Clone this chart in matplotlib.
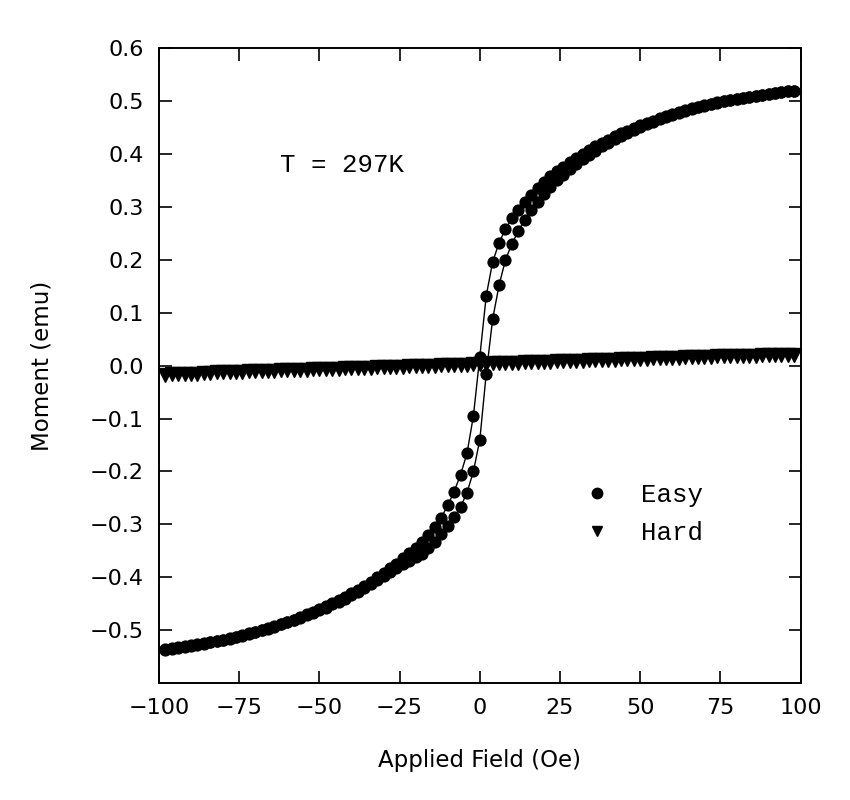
import numpy as np
import matplotlib
matplotlib.use("Agg")
import matplotlib.pyplot as plt
from matplotlib.lines import Line2D

# applied field grid (Oe), step 2
field = np.arange(-98, 99, 2)

# easy axis, descending-field branch (upper)
easy_down = [
    -0.536, -0.534, -0.532, -0.530, -0.528, -0.526, -0.524, -0.522, -0.520, -0.518, -0.515,
    -0.512, -0.509, -0.506, -0.503, -0.499, -0.496, -0.492, -0.488, -0.484, -0.480, -0.475,
    -0.470, -0.465, -0.460, -0.455, -0.449, -0.443, -0.437, -0.430, -0.423, -0.416, -0.408,
    -0.400, -0.392, -0.383, -0.374, -0.364, -0.354, -0.344, -0.334, -0.320, -0.304, -0.287,
    -0.264, -0.238, -0.206, -0.166, -0.095, 0.017, 0.132, 0.196, 0.232, 0.258, 0.278,
    0.294, 0.310, 0.323, 0.336, 0.347, 0.358, 0.367, 0.376, 0.384, 0.392, 0.400,
    0.407, 0.414, 0.421, 0.427, 0.433, 0.439, 0.444, 0.449, 0.454, 0.459, 0.463,
    0.467, 0.471, 0.475, 0.479, 0.482, 0.486, 0.489, 0.492, 0.495, 0.498, 0.500,
    0.502, 0.504, 0.506, 0.508, 0.510, 0.511, 0.513, 0.515, 0.516, 0.518, 0.519,
]

# easy axis, ascending-field branch (lower)
easy_up = [
    -0.537, -0.535, -0.533, -0.531, -0.529, -0.527, -0.525, -0.523, -0.521, -0.519, -0.516,
    -0.513, -0.510, -0.507, -0.504, -0.500, -0.497, -0.493, -0.489, -0.485, -0.481, -0.476,
    -0.471, -0.467, -0.462, -0.457, -0.451, -0.446, -0.440, -0.434, -0.427, -0.420, -0.413,
    -0.405, -0.397, -0.389, -0.382, -0.375, -0.369, -0.362, -0.355, -0.345, -0.333, -0.318,
    -0.303, -0.286, -0.267, -0.240, -0.200, -0.140, -0.015, 0.088, 0.152, 0.200, 0.230,
    0.254, 0.276, 0.294, 0.310, 0.325, 0.338, 0.350, 0.361, 0.372, 0.381, 0.390,
    0.398, 0.406, 0.414, 0.421, 0.428, 0.434, 0.440, 0.446, 0.451, 0.456, 0.461,
    0.465, 0.469, 0.473, 0.477, 0.481, 0.484, 0.488, 0.491, 0.494, 0.497, 0.499,
    0.502, 0.504, 0.506, 0.508, 0.510, 0.511, 0.513, 0.515, 0.516, 0.518, 0.519,
]

# hard axis
hard = [
    -0.017, -0.016, -0.016, -0.015, -0.015, -0.015, -0.014, -0.014, -0.013, -0.013, -0.013,
    -0.012, -0.012, -0.011, -0.011, -0.011, -0.010, -0.010, -0.009, -0.009, -0.009, -0.008,
    -0.008, -0.007, -0.007, -0.007, -0.006, -0.006, -0.005, -0.005, -0.005, -0.004, -0.004,
    -0.003, -0.003, -0.003, -0.002, -0.002, -0.001, -0.001, -0.001, 0.000, 0.000, 0.001,
    0.001, 0.001, 0.002, 0.002, 0.003, 0.003, 0.003, 0.004, 0.004, 0.005, 0.005,
    0.005, 0.006, 0.006, 0.007, 0.007, 0.007, 0.008, 0.008, 0.009, 0.009, 0.009,
    0.010, 0.010, 0.011, 0.011, 0.011, 0.012, 0.012, 0.013, 0.013, 0.013, 0.014,
    0.014, 0.015, 0.015, 0.015, 0.016, 0.016, 0.017, 0.017, 0.017, 0.018, 0.018,
    0.018, 0.019, 0.019, 0.019, 0.019, 0.020, 0.020, 0.020, 0.020, 0.020, 0.020,
]

xticks = [-100, -75, -50, -25, 0, 25, 50, 75, 100]
yticks = [-0.5, -0.4, -0.3, -0.2, -0.1, 0.0, 0.1, 0.2, 0.3, 0.4, 0.5, 0.6]

sans = "DejaVu Sans"
mono = "Liberation Mono"

fig = plt.figure(figsize=(8.5, 8), dpi=100)
ax = fig.add_axes([0.187, 0.146, 0.755, 0.794])

# hard axis: dense triangles
ax.plot(field, hard, ls="-", lw=2.0, marker="v", ms=10, color="black")

# easy axis loop: sweep down then back up
loop_x = np.concatenate([field[::-1], field])
loop_y = np.concatenate([easy_down[::-1], easy_up])
ax.plot(loop_x, loop_y, "-", color="black", lw=1.0, marker="o", ms=8.8,
        markeredgewidth=0)

ax.set_xlim(-100, 100)
ax.set_ylim(-0.6, 0.6)
ax.set_xticks(xticks)
ax.set_yticks(yticks)
ax.set_xticklabels([str(v) if v >= 0 else "\u2212" + str(-v) for v in xticks])
ax.set_yticklabels([("%.1f" % v).replace("-", "\u2212") for v in yticks])
ax.tick_params(direction="in", length=9, width=1.2, top=True, right=True,
               labelsize=16)
ax.tick_params(axis="x", pad=11)
ax.tick_params(axis="y", pad=11)
for lab in ax.get_xticklabels() + ax.get_yticklabels():
    lab.set_fontfamily(sans)
for sp in ax.spines.values():
    sp.set_linewidth(1.4)

ax.set_xlabel("Applied Field (Oe)", fontsize=16.5, family=sans, labelpad=22)
ax.set_ylabel("Moment (emu)", fontsize=16.5, family=sans, labelpad=26)

ax.text(-62.3, 0.379, "T = 297K", fontsize=18.5, family=mono, va="center")

handles = [
    Line2D([], [], ls="none", marker="o", ms=7.5, color="black"),
    Line2D([], [], ls="none", marker="v", ms=7.5, color="black"),
]
ax.legend(handles, ["Easy", "Hard"], loc="center left",
          bbox_to_anchor=(0.607, 0.267), frameon=False, handlelength=2.0,
          handletextpad=0.7, labelspacing=0.55,
          prop={"family": mono, "size": 18.5})

fig.savefig("out.png", dpi=100)
